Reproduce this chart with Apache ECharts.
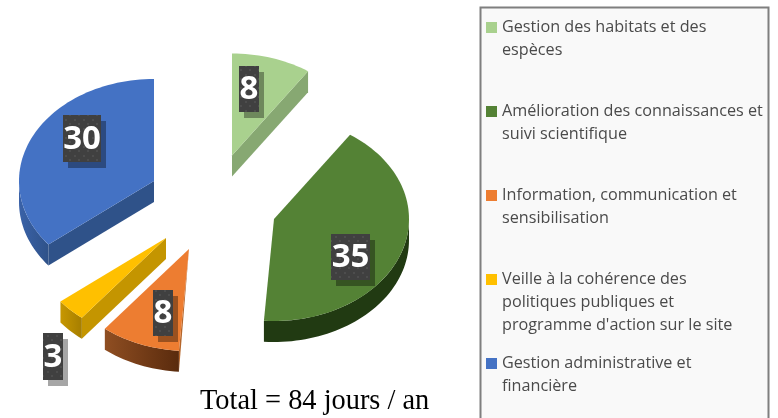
<!DOCTYPE html>
<html><head><meta charset="utf-8">
<style>html,body{margin:0;padding:0;background:#fff}#c{width:778px;height:418px}</style>
<script src="https://cdn.jsdelivr.net/npm/echarts@6/dist/echarts.min.js"></script>
</head><body><div id="c"></div>
<script>
// --- data
const categories = [
  "Gestion des habitats et des\nespèces",
  "Amélioration des connaissances et\nsuivi scientifique",
  "Information, communication et\nsensibilisation",
  "Veille à la cohérence des\npolitiques publiques et\nprogramme d'action sur le site",
  "Gestion administrative et\nfinancière"
];
const values = [8, 35, 8, 3, 30];
const totalText = "Total = 84 jours / an";
// --- layout and style (not data)
const topColors = ["#a9d18e", "#548235", "#ed7d31", "#ffc000", "#4472c4"];
const RX = 135, RY = 102, DEPTH = 21;
const apexes = [[232,155.5],[274,219],[189,249],[166,238],[154,181]];
const labelBoxes = [[239,66,20,46],[331,234,39,46],[153,290,20,46],[43,333,20,47],[63,115,38,47]];
const grad = (a,b)=>({type:'linear',x:0,y:0,x2:1,y2:0,colorStops:[{offset:0,color:a},{offset:1,color:b}]});
const arcWallFill = ["#87a872","#213a12",grad("#8f4e22","#5a2b0d"),grad("#c79700","#a67e00"),grad("#3a62a8","#2f5289")];
const cutWallFill = ["#87a872","#213a12","#b5662b","#c49500","#2f5289"];
const total = values.reduce((a,b)=>a+b,0);
const pattern = document.createElement('canvas');
pattern.width = pattern.height = 9;
(function(){const g=pattern.getContext('2d');g.fillStyle='#404040';g.fillRect(0,0,9,9);g.fillStyle='#4d4d4d';g.fillRect(2,2,2,2);g.fillRect(6,6,2,2);})();

function pt(ap,deg,dy){const a=deg*Math.PI/180;return [ap[0]+RX*Math.sin(a),ap[1]-RY*Math.cos(a)+(dy||0)];}
function arcPts(ap,a0,a1,dy){const n=Math.max(2,Math.ceil((a1-a0)/2)),r=[];for(let i=0;i<=n;i++)r.push(pt(ap,a0+(a1-a0)*i/n,dy));return r;}

function renderSlice(idx){
  return function(params,api){
    const v=api.value(0);
    let before=0;for(let i=0;i<idx;i++)before+=values[i];
    const a0=before/total*360,a1=(before+v)/total*360;
    const ap=apexes[idx],ch=[];
    const poly=(points,fill)=>ch.push({type:'polygon',shape:{points},style:{fill,stroke:null},silent:true});
    // radial cut walls facing the viewer
    if(idx===0){const e=pt(ap,a1);poly([ap,e,[e[0],e[1]+DEPTH],[ap[0],ap[1]+DEPTH]],cutWallFill[idx]);}
    if(idx===3||idx===4){const e=pt(ap,idx===3?a0:a0);poly([ap,e,[e[0],e[1]+DEPTH],[ap[0],ap[1]+DEPTH]],cutWallFill[idx]);}
    if(idx===2){const e=pt(ap,a0);poly([ap,e,[e[0],e[1]+DEPTH]],cutWallFill[idx]);}
    // outer rim wall (visible between 90 and 270 degrees)
    const w0=Math.max(a0,90),w1=Math.min(a1,270);
    if(w1>w0){poly(arcPts(ap,w0,w1,0).concat(arcPts(ap,w0,w1,DEPTH).reverse()),arcWallFill[idx]);}
    // top face
    poly([ap].concat(arcPts(ap,a0,a1,0)),topColors[idx]);
    // value label
    const b=labelBoxes[idx];
    ch.push({type:'rect',shape:{x:b[0]+5,y:b[1]+6,width:b[2],height:b[3]},style:{fill:'rgba(0,0,0,0.35)'},silent:true});
    ch.push({type:'rect',shape:{x:b[0],y:b[1],width:b[2],height:b[3]},style:{fill:{image:pattern,repeat:'repeat'}},silent:true});
    ch.push({type:'text',style:{text:String(v),x:b[0]+b[2]/2,y:b[1]+b[3]/2+1,align:'center',verticalAlign:'middle',fill:'#fff',font:'bold 33px "Open Sans"'},silent:true});
    return {type:'group',children:ch};
  };
}

const chart = echarts.init(document.getElementById('c'),null,{renderer:'canvas'});
const lineCount = s=>s.split('\n').length;
chart.setOption({
  animation:false,
  backgroundColor:'#fff',
  title:{text:totalText,left:200,top:388,padding:0,textStyle:{fontFamily:'"Liberation Serif"',fontSize:28.4,fontWeight:'normal',color:'#000'}},
  graphic:[{type:'rect',z:-1,silent:true,shape:{x:480.5,y:7.5,width:288,height:420},style:{fill:'#f9f9f9',stroke:'#7f7f7f',lineWidth:2}}],
  legend:{
    orient:'vertical',left:486,top:-30,height:1000,itemWidth:11,itemHeight:11,itemGap:-31,padding:0,icon:'rect',selectedMode:false,
    data:categories,
    textStyle:{fontFamily:'"Open Sans"',fontSize:16.2,color:'#4a4a4a',lineHeight:23},
    // every entry is 5 lines tall and centred on its swatch, so the first real line sits beside the swatch
    formatter:n=>'\n\n'+n+(lineCount(n)===2?'\n':'')
  },
  series:categories.map((name,i)=>({
    type:'custom',name,coordinateSystem:'none',clip:false,
    itemStyle:{color:topColors[i]},
    data:[[values[i]]],
    renderItem:renderSlice(i)
  }))
});
</script></body></html>
